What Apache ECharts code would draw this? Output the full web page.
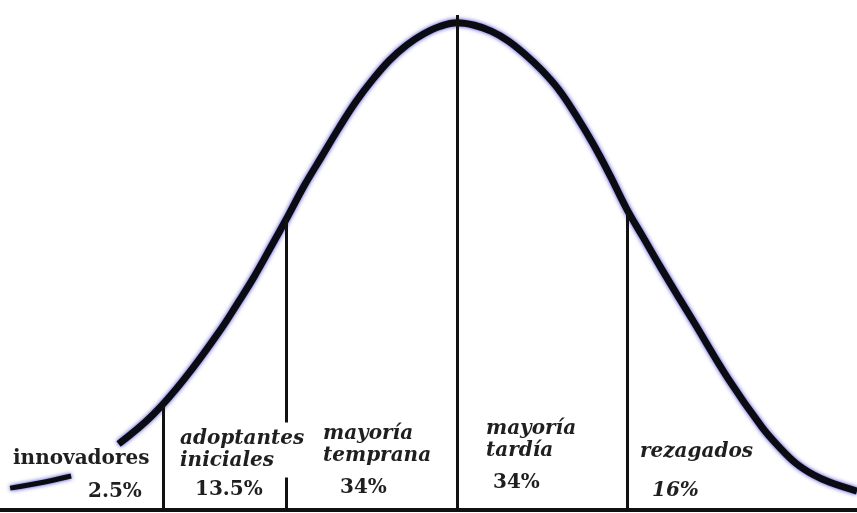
<!DOCTYPE html>
<html>
<head>
<meta charset="utf-8">
<script src="https://cdn.jsdelivr.net/npm/echarts@6/dist/echarts.min.js"></script>
<style>
  html, body { margin: 0; padding: 0; background: #fff; }
  #chart { width: 857px; height: 513px; }
</style>
</head>
<body>
<div id="chart"></div>
<script>
// curva de adopción: x en desviaciones típicas, y en % de la altura máxima
var curveX = [-2.0, -1.8, -1.6, -1.4, -1.3, -1.2, -1.1, -1.0, -0.9, -0.8, -0.7, -0.6, -0.5, -0.4, -0.3, -0.2, -0.1, 0.0,
              0.1, 0.2, 0.3, 0.4, 0.5, 0.6, 0.7, 0.8, 0.9, 1.0, 1.1, 1.2, 1.3, 1.4, 1.6, 1.8, 1.9, 2.0, 2.1, 2.2, 2.36];
var curveY = [13.6, 19.5, 27.5, 37.0, 42.4, 48.0, 54.2, 60.5, 67.0, 72.8, 78.6, 84.0, 88.6, 92.6, 95.7, 98.0, 99.6, 100.3,
              99.8, 98.6, 96.6, 93.8, 90.5, 86.5, 81.3, 75.5, 69.0, 62.0, 56.0, 50.0, 44.2, 38.5, 27.0, 17.0, 13.0, 9.6, 7.3, 5.7, 3.9];
// trazo suelto de la cola izquierda
var tailX = [-2.64, -2.46, -2.28];
var tailY = [4.5, 5.6, 7.0];
// líneas divisorias
var dividerX = [-1.735, -1.009, 0, 1.004];
var dividerTop = [21.5, 60.0, 101.9, 61.5];
// textos
var groupNames = ['innovadores', 'adoptantes\niniciales', 'mayoría\ntemprana', 'mayoría\ntardía', 'rezagados'];
var groupShares = ['2.5%', '13.5%', '34%', '34%', '16%'];

function pairs(xs, ys) {
  return xs.map(function (x, i) { return [x, ys[i]]; });
}

var chart = echarts.init(document.getElementById('chart'));
var ink = '#0b0b14';
var txt = '#1f1f1f';
var font = '"DejaVu Serif", "Liberation Serif", serif';
var glow = 'rgba(30,30,200,0.85)';

function label(text, x, y, italic, extra) {
  var style = {
    text: text, x: x, y: y,
    font: (italic ? 'italic ' : '') + 'bold 20px ' + font,
    fill: txt, textVerticalAlign: 'middle', lineHeight: 22
  };
  if (extra) { for (var k in extra) style[k] = extra[k]; }
  return { type: 'text', z: 100, style: style };
}

chart.setOption({
  backgroundColor: '#fff',
  animation: false,
  grid: { left: 0, right: 0, top: 0, bottom: 3 },
  xAxis: {
    type: 'value', min: -2.7, max: 2.36,
    axisLine: { show: true, onZero: false, lineStyle: { color: '#111', width: 4 } },
    axisTick: { show: false }, axisLabel: { show: false }, splitLine: { show: false }
  },
  yAxis: {
    type: 'value', min: 0, max: 105, show: false,
    splitLine: { show: false }
  },
  series: [{
    type: 'line', data: pairs(curveX, curveY), smooth: 0.4, symbol: 'none',
    lineStyle: { color: ink, width: 7, shadowColor: glow, shadowBlur: 4 },
    markLine: {
      silent: true, symbol: 'none', label: { show: false },
      lineStyle: { color: '#111', width: 3, type: 'solid' },
      data: dividerX.map(function (x, i) {
        return [{ coord: [x, 0] }, { coord: [x, dividerTop[i]] }];
      })
    }
  }, {
    type: 'line', data: pairs(tailX, tailY), smooth: 0.3, symbol: 'none',
    lineStyle: { color: ink, width: 5, shadowColor: glow, shadowBlur: 4 }
  }],
  graphic: [
    label(groupNames[0], 13, 459, false),
    label(groupShares[0], 88, 492, false),
    label(groupNames[1], 178, 450, true, { backgroundColor: '#fff', padding: [3, 2, 8, 2] }),
    label(groupShares[1], 195, 490, false),
    label(groupNames[2], 323, 445, true),
    label(groupShares[2], 340, 488, false),
    label(groupNames[3], 486, 440, true),
    label(groupShares[3], 493, 483, false),
    label(groupNames[4], 640, 452, true),
    label(groupShares[4], 652, 491, true)
  ]
});
</script>
</body>
</html>
